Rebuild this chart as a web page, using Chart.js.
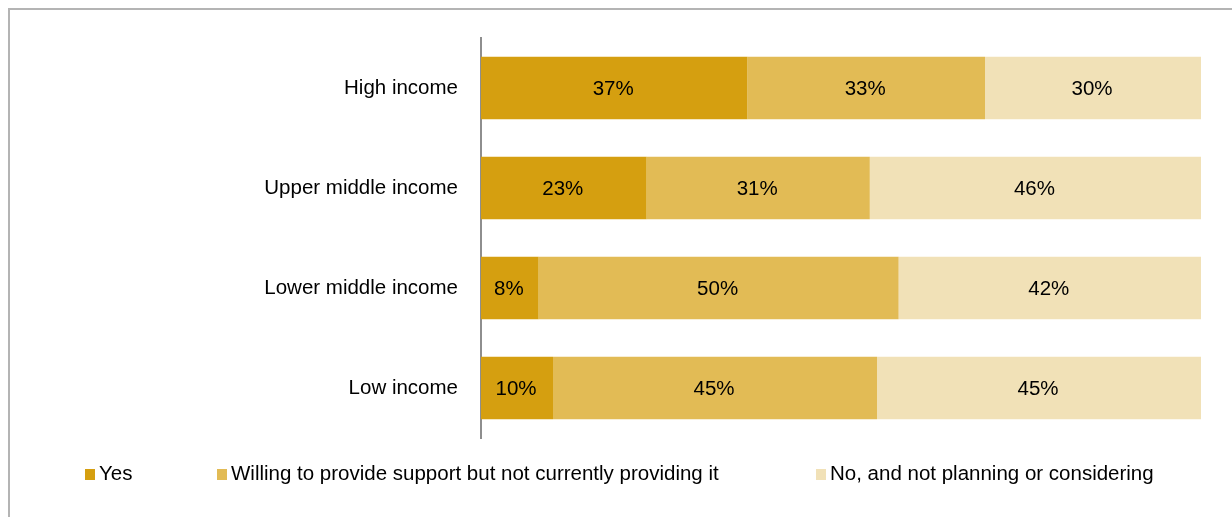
<!DOCTYPE html>
<html>
<head>
<meta charset="utf-8">
<script src="https://cdn.jsdelivr.net/npm/chart.js@4/dist/chart.umd.min.js"></script>
<style>
  html, body { margin: 0; padding: 0; background: #fff; }
  body { width: 1232px; height: 517px; position: relative; overflow: hidden; font-family: "Liberation Sans", Arial, sans-serif; }
  #frame { position: absolute; left: 8px; top: 8px; right: -4px; bottom: -4px; border-top: 2px solid #b4b4b4; border-left: 2px solid #b4b4b4; }
  #wrap { position: absolute; left: 0; top: 0; width: 1232px; height: 517px; }
  #legend { position: absolute; top: 460px; left: 0; width: 1232px; height: 26px; font-size: 20.5px; color: #000; }
  .item { position: absolute; top: 0; white-space: nowrap; line-height: 26px; }
  .sw { display: inline-block; width: 10px; height: 11px; margin-right: 4px; vertical-align: 0px; }
</style>
</head>
<body>
<div id="frame"></div>
<div id="wrap"><canvas id="chart" width="1232" height="517"></canvas></div>
<div id="legend"></div>
<script>
// Income groups and answer shares (%)
const groups = ["High income", "Upper middle income", "Lower middle income", "Low income"];
const seriesNames = ["Yes", "Willing to provide support but not currently providing it", "No, and not planning or considering"];
const yesVals = [37, 23, 8, 10];
const willingVals = [33, 31, 50, 45];
const noVals = [30, 46, 42, 45];
const colors = ["#d59f10", "#e2bb55", "#f1e1b7"];
const legendX = [85, 217, 816];

const font = "Liberation Sans, Arial, sans-serif";

// write the percentage in the middle of each segment
const segmentLabels = {
  id: "segmentLabels",
  afterDatasetsDraw(chart) {
    const ctx = chart.ctx;
    ctx.save();
    ctx.font = "20.5px " + font;
    ctx.fillStyle = "#000";
    ctx.textAlign = "center";
    ctx.textBaseline = "middle";
    chart.data.datasets.forEach((ds, i) => {
      chart.getDatasetMeta(i).data.forEach((bar, j) => {
        const cx = (bar.x + bar.base) / 2;
        ctx.fillText(ds.data[j] + "%", cx - 1, bar.y + 1);
      });
    });
    ctx.restore();
  }
};

new Chart(document.getElementById("chart"), {
  type: "bar",
  data: {
    labels: groups,
    datasets: [
      { label: seriesNames[0], data: yesVals, backgroundColor: colors[0] },
      { label: seriesNames[1], data: willingVals, backgroundColor: colors[1] },
      { label: seriesNames[2], data: noVals, backgroundColor: colors[2] }
    ]
  },
  options: {
    indexAxis: "y",
    responsive: false,
    animation: false,
    layout: { padding: { left: 0, top: 38, right: 31, bottom: 79 } },
    datasets: { bar: { categoryPercentage: 1, barPercentage: 0.625, borderWidth: 0 } },
    scales: {
      x: { stacked: true, min: 0, max: 100, display: false },
      y: {
        stacked: true,
        grid: { display: false },
        border: { display: true, color: "#8e8e8e", width: 2 },
        ticks: { color: "#000", font: { family: font, size: 20.5 }, padding: 15 },
        afterFit(scale) { scale.width = 481; }
      }
    },
    plugins: { legend: { display: false }, tooltip: { enabled: false } }
  },
  plugins: [segmentLabels]
});

// legend row under the plot
const legend = document.getElementById("legend");
seriesNames.forEach((name, i) => {
  const el = document.createElement("div");
  el.className = "item";
  el.style.left = legendX[i] + "px";
  el.innerHTML = '<span class="sw" style="background:' + colors[i] + '"></span>' + name;
  legend.appendChild(el);
});
</script>
</body>
</html>
